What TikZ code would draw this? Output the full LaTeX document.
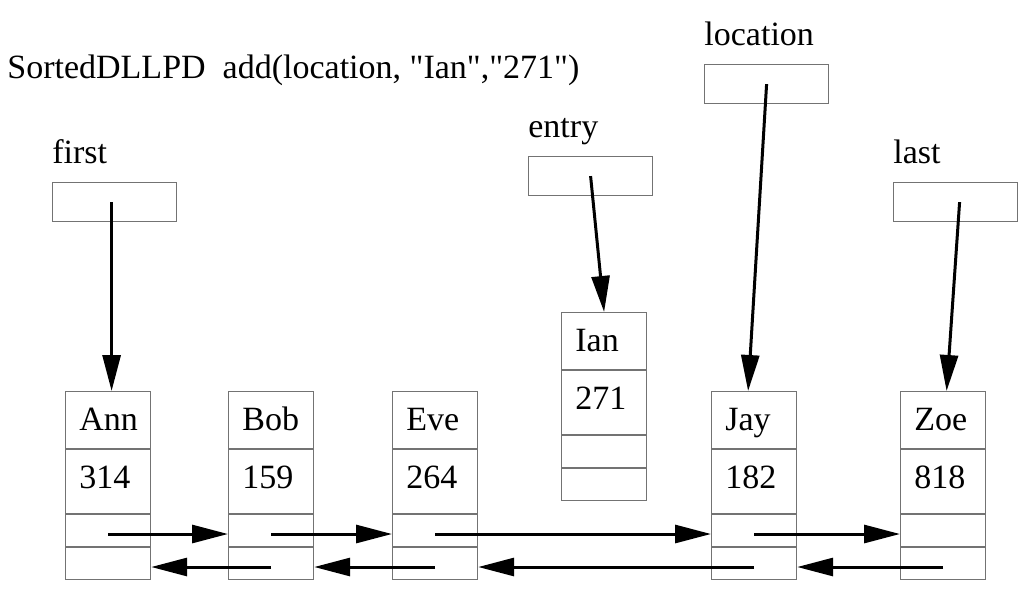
\documentclass[tikz,border=0pt]{standalone}
\usepackage{fontspec}
\setmainfont{Liberation Serif}
\usetikzlibrary{arrows.meta,positioning,calc}

\tikzset{
  rec/.style={draw=black!55, line width=0.6pt, minimum width=42.5pt, minimum height=94pt, inner sep=0pt, anchor=north west},
  sep/.style={draw=black!55, line width=0.6pt},
  ptrbox/.style={draw=black!55, line width=0.6pt, minimum width=62pt, minimum height=19.5pt, inner sep=0pt, anchor=north west},
  txt/.style={font=\fontsize{17}{20}\selectfont, inner sep=0pt, anchor=base west},
  link/.style={-{Triangle[length=18pt,width=9pt]}, line width=1.5pt},
}

\begin{document}
\begin{tikzpicture}[x=0.5pt,y=-0.5pt]
\useasboundingbox (0,0) rectangle (1024,591);
\node[txt] (title) at (7,78) {SortedDLLPD\ \ add(location, \textquotedbl Ian\textquotedbl,\textquotedbl 271\textquotedbl)};

% list entries
\foreach \nm/\key/\val/\x/\y in {ann/Ann/314/65/391, bob/Bob/159/228/391, eve/Eve/264/392/391,
                                 ian/Ian/271/561/312, jay/Jay/182/711/391, zoe/Zoe/818/900/391}{
  \node[rec] (\nm) at (\x,\y) {};
  \draw[sep] ([yshift=-29pt]\nm.north west) -- ([yshift=-29pt]\nm.north east);
  \draw[sep] ([yshift=-61.5pt]\nm.north west) -- ([yshift=-61.5pt]\nm.north east);
  \draw[sep] ([yshift=-78pt]\nm.north west) -- ([yshift=-78pt]\nm.north east);
  \node[txt] (\nm-key) at ([xshift=7pt,yshift=-19.5pt]\nm.north west) {\key};
  \node[txt] (\nm-val) at ([xshift=7pt,yshift=-48.5pt]\nm.north west) {\val};
  \coordinate (\nm-nx) at ([yshift=-71.5pt]\nm.north);
  \coordinate (\nm-pv) at ([yshift=-88pt]\nm.north);
}

% reference variables
\foreach \nm/\x/\y in {first/52/182, entry/528/156, location/704/64, last/893/182}{
  \node[ptrbox] (\nm) at (\x,\y) {};
  \node[txt] (\nm-lbl) at ([yshift=9.5pt]\nm.north west) {\nm};
}

\draw[link] ([xshift=-1.5pt]first.center) -- ([xshift=1.75pt]ann.north);
\draw[link] (entry.center) -- (ian.north);
\draw[link] (location.center) -- ([xshift=-3pt]jay.north);
\draw[link] ([xshift=2pt]last.center) -- ([xshift=1.75pt]zoe.north);

% next / prev links
\foreach \a/\b in {ann/bob, bob/eve, eve/jay, jay/zoe}{
  \draw[link] (\a-nx) -- (\a-nx -| \b.west);
  \draw[link] (\b-pv) -- (\b-pv -| \a.east);
}
\end{tikzpicture}
\end{document}
